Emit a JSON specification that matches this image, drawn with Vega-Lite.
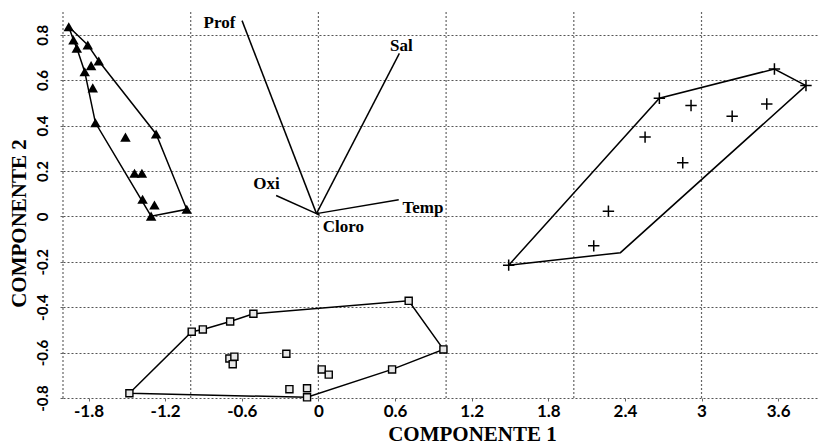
{
  "$schema": "https://vega.github.io/schema/vega-lite/v6.json",
  "autosize": {"type": "none"},
  "width": 756,
  "height": 386,
  "padding": {"left": 63, "top": 12, "right": 1, "bottom": 48},
  "background": "white",
  "config": {"view": {"stroke": null}},
  "datasets": {
    "xgrid": [{"x": -2}, {"x": -1}, {"x": 0}, {"x": 1}, {"x": 2}, {"x": 3}],
    "points": [
      {"g": "tri", "x": -1.955, "y": 0.835},
      {"g": "tri", "x": -1.918, "y": 0.777},
      {"g": "tri", "x": -1.892, "y": 0.741},
      {"g": "tri", "x": -1.806, "y": 0.755},
      {"g": "tri", "x": -1.83, "y": 0.637},
      {"g": "tri", "x": -1.78, "y": 0.664},
      {"g": "tri", "x": -1.72, "y": 0.684},
      {"g": "tri", "x": -1.767, "y": 0.566},
      {"g": "tri", "x": -1.746, "y": 0.412},
      {"g": "tri", "x": -1.271, "y": 0.363},
      {"g": "tri", "x": -1.511, "y": 0.349},
      {"g": "tri", "x": -1.44, "y": 0.19},
      {"g": "tri", "x": -1.382, "y": 0.19},
      {"g": "tri", "x": -1.377, "y": 0.075},
      {"g": "tri", "x": -1.284, "y": 0.05},
      {"g": "tri", "x": -1.31, "y": 0.001},
      {"g": "tri", "x": -1.031, "y": 0.031},
      {"g": "cross", "x": 1.49, "y": -0.215},
      {"g": "cross", "x": 2.67, "y": 0.52},
      {"g": "cross", "x": 3.571, "y": 0.649},
      {"g": "cross", "x": 3.818, "y": 0.576},
      {"g": "cross", "x": 2.918, "y": 0.488},
      {"g": "cross", "x": 3.511, "y": 0.495},
      {"g": "cross", "x": 3.24, "y": 0.441},
      {"g": "cross", "x": 2.558, "y": 0.349},
      {"g": "cross", "x": 2.853, "y": 0.236},
      {"g": "cross", "x": 2.271, "y": 0.023},
      {"g": "cross", "x": 2.156, "y": -0.13},
      {"g": "sq", "x": -1.48, "y": -0.779},
      {"g": "sq", "x": -0.992, "y": -0.508},
      {"g": "sq", "x": -0.905, "y": -0.498},
      {"g": "sq", "x": -0.691, "y": -0.463},
      {"g": "sq", "x": -0.509, "y": -0.429},
      {"g": "sq", "x": -0.697, "y": -0.626},
      {"g": "sq", "x": -0.658, "y": -0.618},
      {"g": "sq", "x": -0.671, "y": -0.651},
      {"g": "sq", "x": -0.251, "y": -0.605},
      {"g": "sq", "x": -0.227, "y": -0.761},
      {"g": "sq", "x": -0.089, "y": -0.757},
      {"g": "sq", "x": -0.089, "y": -0.797},
      {"g": "sq", "x": 0.026, "y": -0.674},
      {"g": "sq", "x": 0.081, "y": -0.697},
      {"g": "sq", "x": 0.707, "y": -0.372},
      {"g": "sq", "x": 0.979, "y": -0.586},
      {"g": "sq", "x": 0.577, "y": -0.674}
    ],
    "hulls": [
      {"g": "tri", "o": 1, "x": -1.955, "y": 0.835},
      {"g": "tri", "o": 2, "x": -1.806, "y": 0.755},
      {"g": "tri", "o": 3, "x": -1.72, "y": 0.684},
      {"g": "tri", "o": 4, "x": -1.271, "y": 0.363},
      {"g": "tri", "o": 5, "x": -1.031, "y": 0.031},
      {"g": "tri", "o": 6, "x": -1.31, "y": 0.001},
      {"g": "tri", "o": 7, "x": -1.746, "y": 0.412},
      {"g": "tri", "o": 8, "x": -1.83, "y": 0.637},
      {"g": "tri", "o": 9, "x": -1.892, "y": 0.741},
      {"g": "tri", "o": 10, "x": -1.918, "y": 0.777},
      {"g": "tri", "o": 11, "x": -1.955, "y": 0.835},
      {"g": "cross", "o": 1, "x": 1.49, "y": -0.215},
      {"g": "cross", "o": 2, "x": 2.67, "y": 0.52},
      {"g": "cross", "o": 3, "x": 3.571, "y": 0.649},
      {"g": "cross", "o": 4, "x": 3.818, "y": 0.576},
      {"g": "cross", "o": 5, "x": 2.365, "y": -0.16},
      {"g": "cross", "o": 6, "x": 1.49, "y": -0.215},
      {"g": "sq", "o": 1, "x": -1.48, "y": -0.779},
      {"g": "sq", "o": 2, "x": -0.992, "y": -0.508},
      {"g": "sq", "o": 3, "x": -0.905, "y": -0.498},
      {"g": "sq", "o": 4, "x": -0.691, "y": -0.463},
      {"g": "sq", "o": 5, "x": -0.509, "y": -0.429},
      {"g": "sq", "o": 6, "x": 0.707, "y": -0.372},
      {"g": "sq", "o": 7, "x": 0.979, "y": -0.586},
      {"g": "sq", "o": 8, "x": 0.577, "y": -0.674},
      {"g": "sq", "o": 9, "x": -0.089, "y": -0.797},
      {"g": "sq", "o": 10, "x": -1.48, "y": -0.779}
    ],
    "vectors": [
      {"v": "Prof", "x": -0.015, "y": 0.012, "xe": -0.598, "ye": 0.862, "lx": -0.775, "ly": 0.85},
      {"v": "Sal", "x": -0.015, "y": 0.012, "xe": 0.634, "ye": 0.718, "lx": 0.65, "ly": 0.752},
      {"v": "Oxi", "x": -0.015, "y": 0.012, "xe": -0.331, "ye": 0.092, "lx": -0.407, "ly": 0.141},
      {"v": "Temp", "x": -0.015, "y": 0.012, "xe": 0.629, "ye": 0.073, "lx": 0.818, "ly": 0.037},
      {"v": "Cloro", "x": -0.015, "y": 0.012, "xe": 0.01, "ye": 0.004, "lx": 0.196, "ly": -0.046}
    ]
  },
  "layer": [
    {
      "data": {"name": "xgrid"},
      "mark": {"type": "rule", "color": "#666", "strokeDash": [2, 2], "strokeWidth": 1.2},
      "encoding": {
        "x": {
          "field": "x", "type": "quantitative",
          "scale": {"domain": [-2, 3.92], "nice": false, "zero": false},
          "axis": {
            "title": "COMPONENTE 1",
            "values": [-1.8, -1.2, -0.6, 0, 0.6, 1.2, 1.8, 2.4, 3, 3.6],
            "labelExpr": "(datum.value < 0 ? '-' : '') + format(abs(datum.value), '~g')",
            "grid": false, "domain": false,
            "ticks": true, "tickSize": 3, "tickColor": "#666",
            "labelFont": "Lato", "labelFontSize": 17, "labelFontWeight": "bold", "labelColor": "black",
            "labelPadding": 2, "labelFlush": false, "labelOverlap": false,
            "titleFont": "Liberation Serif", "titleFontSize": 21, "titleFontWeight": "bold", "titleColor": "black",
            "titleX": 409, "titleY": 36, "titleBaseline": "middle", "titleAlign": "center"
          }
        }
      }
    },
    {
      "data": {"name": "hulls"},
      "mark": {"type": "line", "color": "black", "strokeWidth": 1.5},
      "encoding": {
        "x": {"field": "x", "type": "quantitative"},
        "y": {
          "field": "y", "type": "quantitative",
          "scale": {"domain": [-0.8, 0.9], "nice": false, "zero": false},
          "axis": {
            "title": "COMPONENTE 2",
            "values": [-0.8, -0.7, -0.6, -0.5, -0.4, -0.3, -0.2, -0.1, 0, 0.1, 0.2, 0.3, 0.4, 0.5, 0.6, 0.7, 0.8, 0.9],
            "labelExpr": "(abs(round(datum.value * 10)) % 2 == 0 && datum.value < 0.85) ? ((datum.value < 0 ? '-' : '') + format(abs(datum.value), '~g')) : ''",
            "grid": true, "gridColor": "#555", "gridDash": [2, 2], "gridWidth": 1,
            "domain": false, "ticks": true, "tickSize": 3, "tickColor": "#666",
            "labelAngle": -90, "labelAlign": "center", "labelBaseline": "bottom",
            "labelFont": "Lato", "labelFontSize": 15, "labelFontWeight": "bold", "labelColor": "black",
            "labelPadding": 10, "labelFlush": false, "labelOverlap": false,
            "titleFont": "Liberation Serif", "titleFontSize": 21, "titleFontWeight": "bold", "titleColor": "black",
            "titleAngle": -90, "titleX": -44, "titleY": 211, "titleBaseline": "middle", "titleAlign": "center"
          }
        },
        "detail": {"field": "g"},
        "order": {"field": "o"}
      }
    },
    {
      "data": {"name": "points"},
      "transform": [{"filter": "datum.g == 'tri'"}],
      "mark": {"type": "point", "shape": "triangle-up", "filled": true, "color": "black", "size": 110, "opacity": 1},
      "encoding": {
        "x": {"field": "x", "type": "quantitative"},
        "y": {"field": "y", "type": "quantitative"}
      }
    },
    {
      "data": {"name": "points"},
      "transform": [{"filter": "datum.g == 'cross'"}],
      "mark": {"type": "point", "shape": "M-1,0H1M0,-1V1", "filled": false, "color": "black", "strokeWidth": 1.5, "size": 130, "opacity": 1},
      "encoding": {
        "x": {"field": "x", "type": "quantitative"},
        "y": {"field": "y", "type": "quantitative"}
      }
    },
    {
      "data": {"name": "points"},
      "transform": [{"filter": "datum.g == 'sq'"}],
      "mark": {"type": "point", "shape": "square", "filled": true, "fill": "#e8e8e8", "stroke": "black", "strokeWidth": 1.4, "size": 50, "opacity": 1, "fillOpacity": 1, "strokeOpacity": 1},
      "encoding": {
        "x": {"field": "x", "type": "quantitative"},
        "y": {"field": "y", "type": "quantitative"}
      }
    },
    {
      "data": {"name": "vectors"},
      "mark": {"type": "rule", "color": "black", "strokeWidth": 1.5},
      "encoding": {
        "x": {"field": "x", "type": "quantitative"},
        "y": {"field": "y", "type": "quantitative"},
        "x2": {"field": "xe"},
        "y2": {"field": "ye"}
      }
    },
    {
      "data": {"name": "vectors"},
      "mark": {"type": "text", "font": "Liberation Serif", "fontSize": 17, "fontWeight": "bold", "color": "black", "align": "center", "baseline": "middle"},
      "encoding": {
        "x": {"field": "lx", "type": "quantitative"},
        "y": {"field": "ly", "type": "quantitative"},
        "text": {"field": "v"}
      }
    }
  ]
}
